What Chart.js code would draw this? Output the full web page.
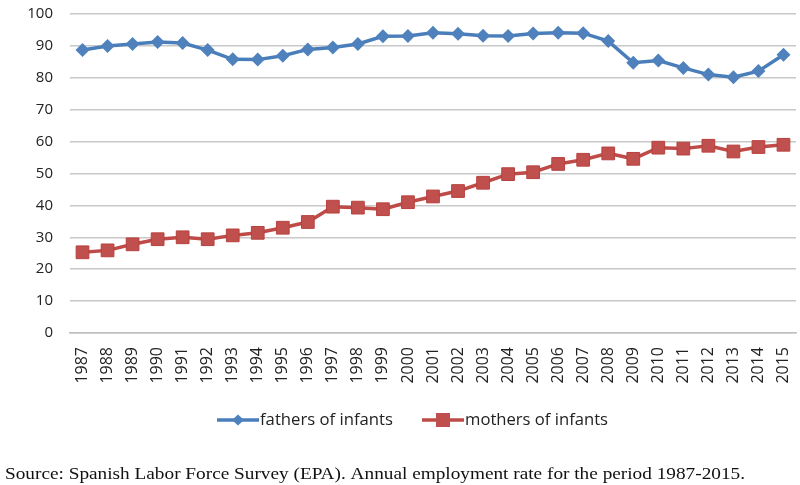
<!DOCTYPE html>
<html>
<head>
<meta charset="utf-8">
<script src="https://cdn.jsdelivr.net/npm/chart.js@4"></script>
<style>
  html, body { margin: 0; padding: 0; background: #fff; }
  #wrap { position: relative; width: 800px; height: 485px; }
</style>
</head>
<body>
<div id="wrap"><canvas id="chart"></canvas></div>
<script>
const years = ['1987','1988','1989','1990','1991','1992','1993','1994','1995','1996',
  '1997','1998','1999','2000','2001','2002','2003','2004','2005','2006','2007','2008',
  '2009','2010','2011','2012','2013','2014','2015'];
const fathers = [88.7, 90.0, 90.6, 91.2, 90.9, 88.7, 85.8, 85.7, 86.9, 88.9, 89.5, 90.6,
  93.0, 93.1, 94.1, 93.8, 93.2, 93.1, 93.9, 94.1, 94.0, 91.5, 84.7, 85.4, 83.1, 81.0,
  80.2, 82.1, 87.2];
const mothers = [25.3, 25.9, 27.8, 29.4, 30.0, 29.4, 30.6, 31.4, 33.0, 34.8, 39.6, 39.3,
  38.8, 41.0, 42.8, 44.5, 47.1, 49.8, 50.4, 53.0, 54.3, 56.3, 54.6, 58.1, 57.8, 58.7,
  56.9, 58.3, 59.0];
const yTicks = [0, 10, 20, 30, 40, 50, 60, 70, 80, 90, 100];
const sourceNote = 'Source: Spanish Labor Force Survey (EPA). Annual employment rate for the period 1987-2015.';

const BLUE = '#4a7ebb';
const RED = '#be4b48';

// write text squeezed/stretched to a given width (the original image is stretched)
function fitText(ctx, text, x, y, width) {
  const w = ctx.measureText(text).width;
  ctx.save();
  ctx.translate(x, y);
  ctx.scale(width / w, 1);
  ctx.fillText(text, 0, 0);
  ctx.restore();
}

// legend drawn like Excel: short line with marker in the middle, then text
const excelLegend = {
  id: 'excelLegend',
  afterDraw(chart) {
    const ctx = chart.ctx;
    const items = [
      { x: 217, text: 'fathers of infants', w: 133, color: BLUE, fill: '#4f81bd', shape: 'diamond' },
      { x: 422, text: 'mothers of infants', w: 143, color: RED, fill: '#c0504d', shape: 'square' }
    ];
    const y = 420;
    ctx.save();
    items.forEach(it => {
      ctx.strokeStyle = it.color;
      ctx.lineWidth = 3.5;
      ctx.beginPath();
      ctx.moveTo(it.x, y);
      ctx.lineTo(it.x + 42, y);
      ctx.stroke();
      const cx = it.x + 21;
      ctx.fillStyle = it.fill;
      ctx.beginPath();
      if (it.shape === 'diamond') {
        ctx.moveTo(cx - 6, y); ctx.lineTo(cx, y - 5.5); ctx.lineTo(cx + 6, y); ctx.lineTo(cx, y + 5.5);
      } else {
        ctx.rect(cx - 7, y - 7, 14, 14);
      }
      ctx.closePath();
      ctx.fill();
      ctx.fillStyle = '#222';
      ctx.font = '16px "Open Sans"';
      ctx.textBaseline = 'middle';
      ctx.textAlign = 'left';
      fitText(ctx, it.text, it.x + 43, y, it.w);
    });
    ctx.fillStyle = '#111';
    ctx.font = '17px "Liberation Serif"';
    ctx.textBaseline = 'alphabetic';
    fitText(ctx, sourceNote, 5, 479, 740);
    ctx.restore();
  }
};

new Chart(document.getElementById('chart'), {
  type: 'line',
  data: {
    labels: years,
    datasets: [
      {
        label: 'fathers of infants',
        data: fathers,
        borderColor: BLUE,
        backgroundColor: '#4f81bd',
        borderWidth: 3.5,
        pointStyle: 'rectRot',
        pointRadius: 7,
        pointBorderWidth: 0,
        tension: 0
      },
      {
        label: 'mothers of infants',
        data: mothers,
        borderColor: RED,
        backgroundColor: '#c0504d',
        pointBorderColor: '#b8413e',
        borderWidth: 3.5,
        pointStyle: 'rect',
        pointRadius: 9,
        pointBorderWidth: 1,
        tension: 0
      }
    ]
  },
  options: {
    responsive: true,
    maintainAspectRatio: false,
    animation: false,
    layout: { autoPadding: false, padding: { top: 14, right: 4, left: 0, bottom: 0 } },
    plugins: {
      legend: { display: false },
      tooltip: { enabled: false }
    },
    scales: {
      x: {
        offset: true,
        grid: { display: false },
        border: { display: true, color: '#bfbfbf', width: 1.5 },
        ticks: {
          maxRotation: 90,
          minRotation: 90,
          autoSkip: false,
          padding: 6,
          color: '#222',
          font: { family: 'Open Sans', size: 16 }
        },
        afterFit(scale) {
          scale.height = 152;
          scale.paddingLeft = 0;
          scale.paddingRight = 0;
        }
      },
      y: {
        min: 0,
        max: 100,
        afterBuildTicks(scale) { scale.ticks = yTicks.map(v => ({ value: v })); },
        grid: { color: '#c8c8c8', lineWidth: 1.5, drawTicks: false },
        border: { display: false },
        ticks: {
          padding: 17,
          color: '#222',
          font: { family: 'Open Sans', size: 15 }
        },
        afterFit(scale) {
          scale.width = 70;
          scale.paddingTop = 0;
          scale.paddingBottom = 0;
        }
      }
    }
  },
  plugins: [excelLegend]
});
</script>
</body>
</html>
